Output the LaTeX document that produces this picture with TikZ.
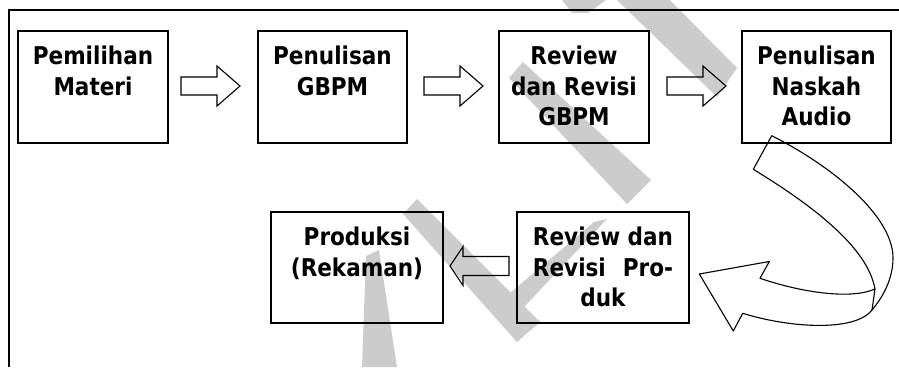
\documentclass[tikz,border=0pt]{standalone}
\usepackage{fontspec}
\setmainfont{DejaVu Sans}[FakeStretch=0.88]
\usetikzlibrary{calc}

% justify a line to the width of a reference line
\newlength\linelen
\newcommand\spreadline[2]{\settowidth\linelen{#1}\makebox[\linelen][s]{#2}}
% fixed-size box content, text hung from the top
\newcommand\boxtext[3]{\parbox[c][#2][t]{#1}{\centering\rule{0pt}{33.5pt}#3}}

% hollow block arrow pointing right, starting beside a node
\newcommand\rightblock[3]{%
  \draw[blk] ($(#1.east)+(#2,#3)$) -- ++(0,-9) -- ++(36,0) -- ++(0,-11)
    -- ++(23,20) -- ++(-23,20) -- ++(0,-11) -- ++(-36,0) -- cycle;}

\tikzset{
  box/.style={draw, line width=1.2pt, inner sep=0pt, outer sep=0pt,
    font=\bfseries\fontsize{24.5pt}{30.5pt}\selectfont},
  blk/.style={draw, line width=1.1pt, line join=miter},
  frame/.style={draw, line width=1.4pt},
  wm/.style={fill=black!20}
}

\begin{document}
\begin{tikzpicture}[x=1pt,y=-1pt]
\useasboundingbox (0,0) rectangle (899,367);

% grey watermark strokes
\fill[wm] (617,0) -- (670,0) -- (737,68) -- (717,97) -- cycle;
\fill[wm] (562,0) -- (606,0) -- (588,13) -- (572,13) -- cycle;
\fill[wm] (523,62) -- (651,180) -- (627,204) -- (509,78) -- cycle;
\fill[wm] (417,199) -- (540,322) -- (517,342) -- (403,214) -- cycle;
\fill[wm] (594,222) -- (607,219) -- (508,324) -- (490,310) -- cycle;
\fill[wm] (362,367) -- (397,367) -- (379,250) -- (366,256) -- cycle;

% surrounding frame (top and left rules)
\draw[frame] (899,10) -- (9,10) -- (9,367);

% process steps
\node[box] (b1) at (93,87)    {\boxtext{150pt}{112pt}{Pemilihan\\Materi}};
\node[box] (b2) at (332.5,87) {\boxtext{149pt}{112pt}{Penulisan\\GBPM}};
\node[box] (b3) at (574,87)   {\boxtext{150pt}{112pt}{Review\\dan Revisi\\GBPM}};
\node[box] (b4) at (816.5,87) {\boxtext{149pt}{112pt}{Penulisan\\Naskah\\Audio}};
\node[box] (b5) at (357,267.5) {\boxtext{172pt}{111pt}{Produksi\\(Rekaman)}};
\node[box] (b6) at (603,267.5) {\boxtext{172pt}{111pt}{Review dan\\\spreadline{Review dan}{Revisi Pro-}\\duk}};

% block arrows along the top row
\rightblock{b1}{13}{-1}
\rightblock{b2}{17}{-1}
\rightblock{b3}{18}{-1}

% block arrow pointing left on the bottom row
\draw[blk] ($(b5.east)+(7,-1.5)$) -- ++(13,-19.5) -- ++(0,10) -- ++(46,0)
  -- ++(0,19) -- ++(-46,0) -- ++(0,10) -- cycle;

% twisted U-turn arrow from the last top step down to the bottom row
\draw[blk, line join=round]
  (771.7,135.7) .. controls (830,165) and (893,215) .. (893,258)
  .. controls (893,280) and (882,298) .. (872,310)
  .. controls (855,332) and (790,328) .. (742.7,313.3)
  -- (733.3,331) -- (699.3,274) -- (769.3,261.5) -- (760,278.3)
  .. controls (800,292) and (850,300) .. (875,289)
  .. controls (868,250) and (820,210) .. (753.3,169.3) -- cycle;
\draw[blk] (875,289) -- (872,310);
\end{tikzpicture}
\end{document}
